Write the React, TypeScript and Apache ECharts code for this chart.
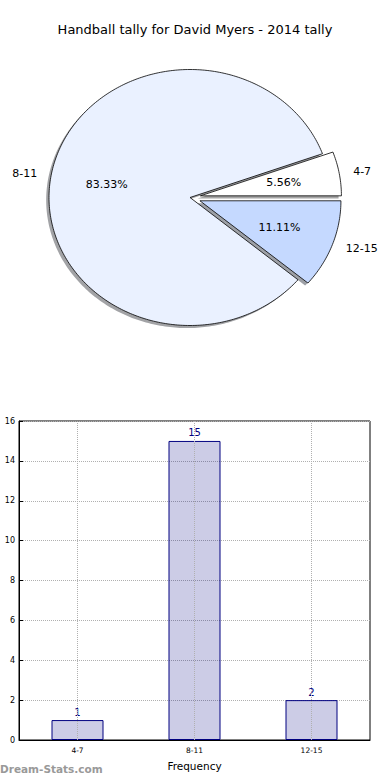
import React, { useEffect, useRef } from "react";
import * as echarts from "echarts";

const TITLE = "Handball tally for David Myers - 2014 tally";
const categories = ["4-7", "8-11", "12-15"];
const counts = [1, 15, 2];
const pieColors = ["#ffffff", "#eaf1ff", "#c5d9ff"];
const shadowColors = ["#4d4d4d", "#46484d", "#3b414d"];
const explode = [0.075, 0, 0.075];
const xAxisName = "Frequency";
const yAxisName = "Score count";
const watermark = "Dream-Stats.com";

const PIE_CX = 190;
const PIE_CY = 197.5;
const RX = 141;
const RY = 128;
const FONT = "DejaVu Sans";

const total = counts.reduce((a, b) => a + b, 0);

function wedgeInfo(i: number) {
  let before = 0;
  for (let k = 0; k < i; k++) before += counts[k];
  const a0 = (before / total) * 360;
  const a1 = ((before + counts[i]) / total) * 360;
  const mid = ((a0 + a1) / 2) * (Math.PI / 180);
  const ox = PIE_CX + explode[i] * RX * Math.cos(mid);
  const oy = PIE_CY - explode[i] * RY * Math.sin(mid);
  return { a0, a1, mid, ox, oy };
}

function wedgePoints(cx: number, cy: number, a0: number, a1: number) {
  const pts: number[][] = [[cx, cy]];
  const steps = Math.max(4, Math.ceil(a1 - a0));
  for (let s = 0; s <= steps; s++) {
    const a = ((a0 + ((a1 - a0) * s) / steps) * Math.PI) / 180;
    pts.push([cx + RX * Math.cos(a), cy - RY * Math.sin(a)]);
  }
  return pts;
}

export default function App() {
  const ref = useRef<HTMLDivElement>(null);
  useEffect(() => {
    if (!ref.current) return;
    const chart = echarts.init(ref.current, null, { renderer: "svg" });
    const option: any = {
      animation: false,
      backgroundColor: "#ffffff",
      textStyle: { fontFamily: FONT },
      title: {
        text: TITLE,
        left: "center",
        top: 18,
        textStyle: { fontFamily: FONT, fontSize: 13, fontWeight: "normal", color: "#000" },
      },
      graphic: [
        {
          type: "text",
          left: 0,
          top: 763,
          style: {
            text: watermark,
            fill: "#999999",
            fontFamily: FONT,
            fontSize: 10.5,
            fontWeight: "bold",
          },
        },
      ],
      grid: {
        left: 19,
        right: 20,
        top: 421,
        bottom: 40,
        outerBoundsMode: "none",
        containLabel: false,
        show: true,
        borderColor: "#000",
        borderWidth: 1,
        backgroundColor: "transparent",
      },
      xAxis: {
        type: "category",
        data: categories,
        name: xAxisName,
        nameLocation: "middle",
        nameGap: 20,
        nameTextStyle: { fontFamily: FONT, fontSize: 10.5, color: "#000" },
        axisLine: { lineStyle: { color: "#000" } },
        axisTick: { alignWithLabel: true, inside: true, length: 4, lineStyle: { color: "#000" } },
        axisLabel: { fontFamily: FONT, fontSize: 7.5, color: "#000", margin: 6 },
        splitLine: { show: false },
      },
      yAxis: {
        type: "value",
        min: 0,
        max: 16,
        interval: 2,
        name: yAxisName,
        nameLocation: "middle",
        nameGap: 17,
        nameTextStyle: { fontFamily: FONT, fontSize: 10, color: "#000" },
        axisLine: { show: true, lineStyle: { color: "#000" } },
        axisTick: { show: true, inside: true, length: 4, lineStyle: { color: "#000" } },
        axisLabel: { fontFamily: FONT, fontSize: 8, color: "#000", margin: 4 },
        splitLine: { show: true, lineStyle: { type: "dotted", color: "#b0b0b0", width: 1 } },
      },
      series: [
        {
          type: "custom",
          coordinateSystem: "none",
          z: 1,
          silent: true,
          data: counts,
          renderItem: (params: any) => {
            const i = params.dataIndex;
            const w = wedgeInfo(i);
            return {
              type: "polygon",
              shape: { points: wedgePoints(w.ox - 0.02 * RX, w.oy + 0.02 * RY, w.a0, w.a1) },
              style: { fill: shadowColors[i], opacity: 0.5, stroke: "none" },
            };
          },
        },
        {
          type: "custom",
          coordinateSystem: "none",
          z: 2,
          silent: true,
          data: counts,
          renderItem: (params: any) => {
            const i = params.dataIndex;
            const w = wedgeInfo(i);
            const pct = ((counts[i] / total) * 100).toFixed(2) + "%";
            const lx = w.ox + 1.1 * RX * Math.cos(w.mid);
            const ly = w.oy - 1.1 * RY * Math.sin(w.mid);
            const px = w.ox + 0.6 * RX * Math.cos(w.mid);
            const py = w.oy - 0.6 * RY * Math.sin(w.mid);
            return {
              type: "group",
              children: [
                {
                  type: "polygon",
                  shape: { points: wedgePoints(w.ox, w.oy, w.a0, w.a1) },
                  style: { fill: pieColors[i], stroke: "#000", lineWidth: 0.8 },
                },
                {
                  type: "text",
                  style: {
                    text: categories[i],
                    x: lx,
                    y: ly,
                    fill: "#000",
                    fontFamily: FONT,
                    fontSize: 11,
                    align: Math.cos(w.mid) < 0 ? "right" : "left",
                    verticalAlign: "middle",
                  },
                },
                {
                  type: "text",
                  style: {
                    text: pct,
                    x: px,
                    y: py,
                    fill: "#000",
                    fontFamily: FONT,
                    fontSize: 11,
                    align: "center",
                    verticalAlign: "middle",
                  },
                },
              ],
            };
          },
        },
        {
          type: "bar",
          data: counts,
          barWidth: 52,
          itemStyle: { color: "rgba(0,0,128,0.2)", borderColor: "#000080", borderWidth: 1 },
          label: {
            show: true,
            position: "top",
            distance: 3,
            color: "#000080",
            fontFamily: FONT,
            fontSize: 10,
          },
          markLine: {
            silent: true,
            symbol: ["none", "none"],
            label: { show: false },
            lineStyle: { type: "dotted", color: "#b0b0b0", width: 1 },
            data: categories.map((c) => ({ xAxis: c })),
          },
        },
      ],
    };
    chart.setOption(option);
    return () => chart.dispose();
  }, []);
  return (
    <div
      ref={ref}
      style={{ position: "fixed", left: 0, top: 0, width: 390, height: 780, background: "#fff" }}
    />
  );
}
